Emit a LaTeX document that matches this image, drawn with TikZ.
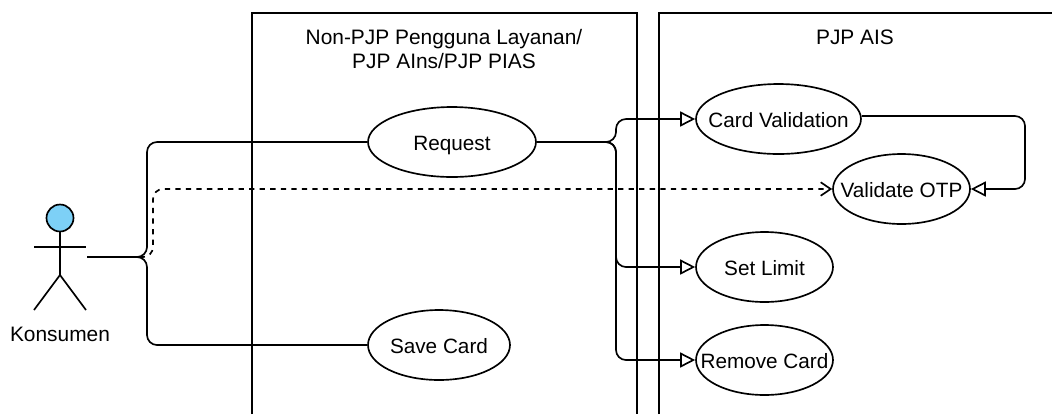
\documentclass[tikz,border=0pt]{standalone}
\usepackage{fontspec}
\usepackage{xcolor}
\setmainfont{Liberation Sans}
\usetikzlibrary{shapes,arrows.meta,positioning,calc}
\definecolor{headblue}{HTML}{7DD0F6}

\begin{document}
\begin{tikzpicture}[x=0.02cm, y=-0.02cm, line width=0.95pt]
  % Define styles
  \tikzstyle{usecase} = [ellipse, draw, inner xsep=-0.5cm, inner ysep=0pt, minimum height=1.4cm, text height=0.34cm, text depth=0.02cm, font=\fontsize{11.8}{14}\selectfont]
  \tikzstyle{lane} = [font=\fontsize{11.9}{13.6}\selectfont, align=center]
  \tikzstyle{link} = [rounded corners=0.2cm]
  \tikzstyle{arrow} = [link, -{Triangle[open, length=0.3cm, width=0.3cm]}]
  \tikzstyle{dasharrow} = [link, dashed, -{Straight Barb[length=0.2cm, width=0.27cm]}]
  \useasboundingbox (0,0) rectangle (1052,414);

  % Lanes
  \draw (252,414) |- (637,13) -- (637,414);
  \draw (659,414) |- (1052,13);
  \node [lane] (client) at (444,49) {Non-PJP Pengguna Layanan/\\PJP AIns/PJP PIAS};
  \node [lane] (ais) at (855,37) {PJP AIS};

  % Use cases
  \node [usecase, minimum width=3.36cm] (request) at (452,142) {Request};
  \node [usecase, minimum width=2.84cm] (savecard) at (439,345) {Save Card};
  \node [usecase, minimum width=3.3cm] (cardval) at (778.5,119) {Card Validation};
  \node [usecase, minimum width=2.74cm] (otp) at (901.5,189) {Validate OTP};
  \node [usecase, minimum width=2.74cm] (limit) at (764.5,267) {Set Limit};
  \node [usecase, minimum width=2.74cm] (remove) at (764.5,360) {Remove Card};

  % Actor
  \node [circle, draw, fill=headblue, minimum size=0.54cm, inner sep=0pt] (head) at (60,218) {};
  \coordinate (hip) at (60,275);
  \coordinate (hand) at (87,257);
  \draw (head) -- (hip);
  \draw (34,247) -- (86,247);
  \draw (34,310) -- (hip) -- (86,310);
  \node [lane] (konsumen) at (60,334) {Konsumen};

  % Workflow arrows
  \draw [link] (hand) -- (147,257) |- (request.west);
  \draw [link] (hand) -- (147,257) |- (savecard.west);
  \draw [dasharrow] (hand) -- (153,257) |- (otp.west);
  \draw [arrow] (request.east) -- (616,142) |- (cardval.west);
  \draw [arrow] (request.east) -- (616,142) |- (limit.west);
  \draw [arrow] (request.east) -- (616,142) |- (remove.west);
  \draw [arrow] (cardval.east |- 0,116) -- (1025,116) |- (otp.east);
\end{tikzpicture}
\end{document}
